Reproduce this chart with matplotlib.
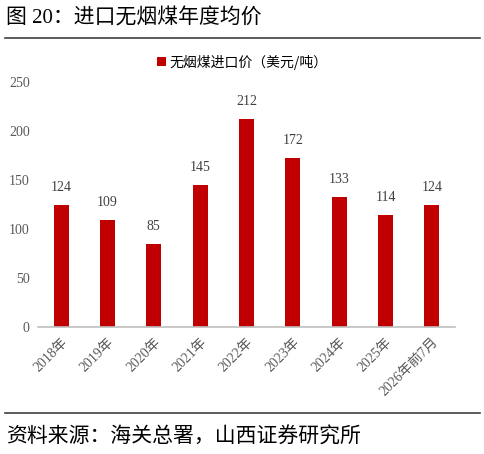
import matplotlib
matplotlib.use("Agg")
import matplotlib.pyplot as plt

plt.rcParams['font.family'] = ['Liberation Serif', 'Noto Sans CJK SC', 'DejaVu Sans']

categories = ["2018年", "2019年", "2020年", "2021年", "2022年", "2023年", "2024年", "2025年", "2026年前7月"]
values = [124, 109, 85, 145, 212, 172, 133, 114, 124]
yticks = [0, 50, 100, 150, 200, 250]
series_name = "无烟煤进口价（美元/吨）"
title = "图 20：进口无烟煤年度均价"
source = "资料来源：海关总署，山西证券研究所"

W, H = 485, 454
fig = plt.figure(figsize=(W / 100, H / 100), dpi=100)
ax = fig.add_axes([38 / W, 1 - 327 / H, (455 - 38) / W, (327 - 82) / H])

x = list(range(len(categories)))
bars = ax.bar(x, values, width=0.33, color="#C00000", label=series_name, zorder=2)
for xi, v in zip(x, values):
    ax.annotate(str(v), (xi, v), xytext=(0, 8), textcoords="offset points",
                ha="center", va="bottom", fontsize=10, color="#404040")

ax.set_xlim(-0.5, len(categories) - 0.5)
ax.set_ylim(0, 250)
ax.set_yticks(yticks)
ax.set_yticklabels([str(t) for t in yticks], fontsize=10, color="#595959")
ax.set_xticks(x)
ax.set_xticklabels(categories, rotation=45, ha="right", rotation_mode="anchor",
                   fontsize=10, color="#595959")
ax.tick_params(axis="both", length=0, pad=6)
for s in ["top", "right", "left"]:
    ax.spines[s].set_visible(False)
ax.spines["bottom"].set_color("#BFBFBF")
ax.spines["bottom"].set_linewidth(1.2)

fig.legend(handles=[bars], labels=[series_name], loc="center", bbox_to_anchor=(0.5, 1 - 62 / H),
           frameon=False, handlelength=0.6, handleheight=0.6, handletextpad=0.3,
           prop={'family': ['Noto Sans CJK SC', 'DejaVu Sans'], 'size': 10})

fig.text(6 / W, 1 - 18 / H, title, fontsize=15, ha="left", va="center", color="#000000",
         family=['Liberation Serif', 'Noto Sans CJK SC', 'DejaVu Sans'])
fig.add_artist(plt.Line2D([5 / W, 480 / W], [1 - 38 / H, 1 - 38 / H], color="#404040", lw=1.2))
fig.add_artist(plt.Line2D([5 / W, 480 / W], [1 - 413 / H, 1 - 413 / H], color="#404040", lw=1.2))
fig.text(6 / W, 1 - 437 / H, source, fontsize=15, ha="left", va="center", color="#000000",
         family=['Noto Sans CJK SC', 'DejaVu Sans'])

fig.savefig("out.png", dpi=100)
